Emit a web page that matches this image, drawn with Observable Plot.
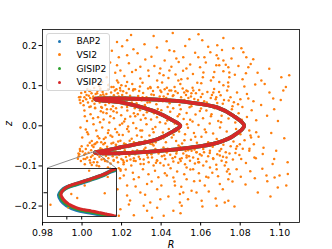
<!DOCTYPE html>
<html><head><meta charset="utf-8">
<script src="https://cdn.jsdelivr.net/npm/d3@7"></script>
<script src="https://cdn.jsdelivr.net/npm/@observablehq/plot@0.6"></script>
<style>
body{margin:0;background:#fff;}
#wrap{position:relative;width:332px;height:249px;font-family:"DejaVu Sans",sans-serif;}
#wrap > *{position:absolute;}
</style></head><body><div id="wrap"></div>
<script>
const series = ["BAP2","VSI2","GISIP2","VSIP2"];
const colors = ["#1f77b4","#ff7f0e","#2ca02c","#d62728"];
const xTicks = [0.98,1.00,1.02,1.04,1.06,1.08,1.10];
const yTicks = [-0.2,-0.1,0.0,0.1,0.2];
const xDomain = [0.98,1.11];
const yDomain = [-0.241,0.24];
const insetXDomain = [1.00647,1.006934];
const insetYDomain = [-0.06749,-0.06549];
const insetXTicks = [1.0066,1.0067];
const insetYTicks = [-0.0665];

// orbit (closed loop)
const orbitR = [1.006557,1.006574,1.006607,1.006674,1.006763,1.006850,1.006930,1.0211,1.0380,1.0548,1.0683,1.0766,1.0820,1.0765,1.0683,1.0548,1.0380,1.0211,1.0070,1.00656,1.0070,1.0211,1.0295,1.0380,1.0447,1.0497,1.0463,1.0380,1.0295,1.0211,1.0093,1.006930,1.006850,1.006763,1.006674,1.006607,1.006574];
const orbitZ = [-0.06656,-0.06680,-0.06698,-0.06717,-0.06728,-0.06739,-0.06749,-0.0680,-0.0630,-0.0545,-0.0425,-0.0250,0.0000,0.0250,0.0460,0.0580,0.0650,0.0680,0.0676,0.0665,0.0654,0.0570,0.0470,0.0330,0.0165,0.0000,-0.0130,-0.0335,-0.0440,-0.0520,-0.0640,-0.06552,-0.06574,-0.06593,-0.06611,-0.06625,-0.06639];

// VSI2 scattered points [R, z]
const vsi2 = [
[1.0005,0.062],[1.0012,0.071],[1.0021,0.066],[1.0030,0.058],[1.0034,0.075],[1.0041,0.069],[1.0048,0.081],[1.0052,0.062],[1.0057,0.073],[1.0063,0.055],[1.0069,0.079],[1.0074,0.064],[1.0078,0.087],[1.0083,0.071],[1.0089,0.058],[1.0094,0.076],[1.0098,0.066],[1.0104,0.084],[1.0109,0.061],[1.0113,0.073],[1.0118,0.052],[1.0123,0.079],[1.0128,0.067],[1.0132,0.091],[1.0137,0.057],[1.0142,0.072],[1.0147,0.083],[1.0151,0.063],[1.0156,0.049],[1.0161,0.076],[1.0166,0.088],[1.0171,0.069],[1.0176,0.058],[1.0181,0.081],[1.0186,0.073],[1.0192,0.094],[1.0197,0.061],[1.0203,0.077],[1.0208,0.086],[1.0214,0.054],[1.0219,0.071],[1.0225,0.082],[1.0231,0.064],[1.0237,0.092],[1.0243,0.075],[0.9985,0.071],[0.9992,0.057],[0.9988,0.064],[1.0016,0.084],[1.0027,0.092],[1.0044,0.048],[1.0061,0.094],[1.0087,0.099],[1.0101,0.045],[1.0126,0.041],[1.0149,0.097],[1.0172,0.044],[1.0199,0.101],[1.0228,0.047],[1.0252,0.058],[1.0258,0.088],[1.0264,0.069],[0.9996,0.082],[1.0008,0.051],[1.0037,0.087],[1.0066,0.045],[1.0092,0.089],[1.0135,0.102],[1.0183,0.108],[1.0221,0.099],
[1.0003,-0.064],[1.0011,-0.072],[1.0019,-0.058],[1.0026,-0.079],[1.0033,-0.067],[1.0039,-0.086],[1.0046,-0.061],[1.0053,-0.074],[1.0058,-0.053],[1.0064,-0.082],[1.0071,-0.069],[1.0077,-0.091],[1.0082,-0.062],[1.0088,-0.077],[1.0093,-0.056],[1.0099,-0.084],[1.0105,-0.071],[1.0111,-0.063],[1.0116,-0.088],[1.0121,-0.075],[1.0127,-0.052],[1.0133,-0.081],[1.0138,-0.068],[1.0144,-0.094],[1.0149,-0.059],[1.0155,-0.076],[1.0160,-0.085],[1.0165,-0.066],[1.0171,-0.047],[1.0176,-0.079],[1.0182,-0.091],[1.0188,-0.072],[1.0193,-0.057],[1.0199,-0.083],[1.0204,-0.068],[1.0210,-0.096],[1.0216,-0.061],[1.0222,-0.078],[1.0227,-0.087],[1.0233,-0.053],[1.0239,-0.074],[1.0245,-0.084],[0.9982,-0.069],[0.9989,-0.058],[0.9983,-0.076],[0.9990,-0.063],[0.9994,-0.088],[1.0014,-0.096],[1.0029,-0.049],[1.0049,-0.098],[1.0068,-0.044],[1.0086,-0.101],[1.0108,-0.046],[1.0131,-0.104],[1.0158,-0.042],[1.0186,-0.106],[1.0213,-0.044],[1.0249,-0.099],[1.0256,-0.063],[1.0262,-0.081],[1.0268,-0.071],[0.9998,-0.051],[1.0008,-0.083],[1.0042,-0.092],[1.0074,-0.099],[1.0097,-0.041],[1.0142,-0.107],[1.0195,-0.112],[0.9986,-0.071],[0.9979,-0.082],
[1.0012,0.038],[1.0025,0.012],[1.0031,-0.021],[1.0043,0.029],[1.0049,-0.038],[1.0058,0.004],[1.0066,0.044],[1.0072,-0.012],[1.0081,0.021],[1.0087,-0.031],[1.0095,0.036],[1.0102,-0.004],[1.0109,0.016],[1.0116,-0.043],[1.0124,0.031],[1.0131,-0.018],[1.0138,0.008],[1.0146,0.041],[1.0153,-0.027],[1.0161,0.019],[1.0168,-0.008],[1.0176,0.033],[1.0183,-0.039],[1.0191,0.002],[1.0198,0.026],[1.0206,-0.023],[1.0213,0.011],[1.0221,-0.046],[1.0229,0.038],[1.0236,-0.014],[1.0244,0.023],[1.0251,-0.032],[1.0259,0.007],[1.0267,0.044],[1.0274,-0.006],[1.0282,0.029],[1.0289,-0.041],[1.0297,0.015],[1.0019,-0.009],[1.0037,0.047],[1.0063,-0.046],[1.0091,0.009],[1.0119,-0.029],[1.0143,0.024],[1.0172,-0.048],[1.0201,0.046],[1.0233,-0.002],[1.0262,0.031],[1.0278,-0.024],[1.0293,0.039],
[1.0304,-0.012],[1.0311,0.027],[1.0319,-0.037],[1.0326,0.004],[1.0334,0.043],[1.0341,-0.024],[1.0349,0.016],[1.0356,-0.046],[1.0364,0.031],[1.0371,-0.003],[1.0379,0.021],[1.0386,-0.033],[1.0394,0.009],[1.0401,0.039],[1.0409,-0.017],[1.0416,0.026],[1.0424,-0.041],[1.0431,0.013],[1.0439,-0.008],[1.0446,0.035],[1.0454,-0.029],[1.0461,0.044],[1.0469,0.006],[1.0476,-0.038],[1.0484,0.024],[1.0491,-0.014],[1.0499,0.041],[1.0506,-0.044],[1.0514,0.017],[1.0521,-0.021],[1.0529,0.032],[1.0536,-0.005],[1.0544,0.046],[1.0551,-0.035],[1.0559,0.011],[1.0566,-0.018],[1.0574,0.028],[1.0581,-0.042],[1.0589,0.002],[1.0596,0.037],[1.0318,0.048],[1.0362,-0.049],[1.0433,0.047],[1.0488,-0.049],[1.0553,0.049],
[1.0604,-0.027],[1.0612,0.019],[1.0621,-0.009],[1.0629,0.038],[1.0638,-0.041],[1.0646,0.006],[1.0655,0.029],[1.0663,-0.019],[1.0672,0.044],[1.0681,-0.033],[1.0689,0.012],[1.0698,-0.004],[1.0706,0.025],[1.0715,-0.047],[1.0723,0.036],[1.0732,-0.014],[1.0741,0.018],[1.0749,-0.028],[1.0758,0.041],[1.0766,-0.039],[1.0775,0.008],[1.0784,-0.051],[1.0792,0.031],[1.0801,-0.021],[1.0811,0.047],[1.0822,-0.036],[1.0834,0.022],[1.0846,-0.012],[1.0858,0.039],[1.0869,-0.046],[1.0881,0.014],[1.0893,-0.027],[1.0906,0.052],[1.0918,-0.055],[1.0624,0.053],
[1.0268,0.091],[1.0276,0.056],[1.0284,0.074],[1.0293,0.098],[1.0301,0.063],[1.0309,0.082],[1.0318,0.052],[1.0326,0.071],[1.0334,0.093],[1.0343,0.059],[1.0351,0.078],[1.0359,0.087],[1.0368,0.066],[1.0376,0.054],[1.0384,0.096],[1.0393,0.073],[1.0401,0.084],[1.0409,0.061],[1.0418,0.091],[1.0426,0.069],[1.0434,0.079],[1.0443,0.056],[1.0451,0.088],[1.0459,0.074],[1.0468,0.097],[1.0476,0.063],[1.0484,0.082],[1.0493,0.052],[1.0501,0.071],[1.0509,0.093],[1.0518,0.064],[1.0526,0.077],[1.0534,0.086],[1.0543,0.058],[1.0551,0.073],[1.0559,0.095],[1.0568,0.067],[1.0576,0.081],[1.0584,0.055],[1.0593,0.089],[1.0601,0.072],[1.0618,0.061],[1.0634,0.084],[1.0651,0.069],[1.0668,0.092],[1.0684,0.057],[1.0701,0.076],[1.0718,0.064],[1.0734,0.088],[1.0751,0.071],[1.0768,0.059],[1.0784,0.083],[1.0801,0.066],[1.0834,0.079],[1.0867,0.061],
[1.0271,-0.088],[1.0279,-0.061],[1.0287,-0.077],[1.0296,-0.095],[1.0304,-0.067],[1.0312,-0.084],[1.0321,-0.055],[1.0329,-0.072],[1.0337,-0.091],[1.0346,-0.063],[1.0354,-0.079],[1.0362,-0.099],[1.0371,-0.058],[1.0379,-0.086],[1.0387,-0.069],[1.0396,-0.093],[1.0404,-0.076],[1.0412,-0.054],[1.0421,-0.083],[1.0429,-0.066],[1.0437,-0.097],[1.0446,-0.072],[1.0454,-0.059],[1.0462,-0.089],[1.0471,-0.078],[1.0479,-0.064],[1.0487,-0.092],[1.0496,-0.053],[1.0504,-0.081],[1.0512,-0.069],[1.0521,-0.096],[1.0529,-0.074],[1.0537,-0.061],[1.0546,-0.087],[1.0554,-0.056],[1.0562,-0.079],[1.0571,-0.094],[1.0579,-0.066],[1.0587,-0.083],[1.0596,-0.071],[1.0613,-0.058],[1.0629,-0.089],[1.0646,-0.068],[1.0663,-0.081],[1.0679,-0.097],[1.0696,-0.063],[1.0713,-0.077],[1.0729,-0.091],[1.0746,-0.069],[1.0763,-0.084],[1.0779,-0.057],[1.0796,-0.073],[1.0829,-0.093],[1.0846,-0.062],[1.0879,-0.081],
[1.0543,0.216],[1.0608,0.213],[1.0684,0.201],[1.0442,0.188],[1.0765,0.193],[1.0806,0.193],[1.0816,0.183],[1.0649,0.183],[1.0588,0.171],[1.0619,0.171],[1.0512,0.171],[1.0477,0.168],[1.0831,0.171],[1.0866,0.166],[1.0689,0.168],[1.0715,0.163],[1.0679,0.151],[1.0694,0.151],[1.0740,0.146],[1.0841,0.146],[1.0528,0.143],[1.0442,0.138],[1.0614,0.133],[1.0715,0.136],[1.0745,0.133],[1.0664,0.121],[1.0487,0.113],[1.0502,0.116],[1.0745,0.121],[1.0715,0.101],[1.0740,0.098],[1.0821,0.098],[1.0876,0.103],[1.0907,0.113],[1.1008,0.121],[1.1048,0.126],[1.1018,0.088],[1.0967,0.068],[1.0841,0.068],[1.0603,0.106],[1.0664,0.083],[1.0679,0.071],[1.0528,0.088],[1.0553,0.081],[1.0442,0.088],[1.0462,0.076],
[1.0177,0.209],[1.0228,0.213],[1.0362,0.224],[1.0320,0.165],[1.0260,0.191],[1.0228,0.176],[1.0177,0.151],[1.0295,0.147],[1.0194,0.138],[1.0253,0.134],[1.0335,0.138],[1.0396,0.143],[1.0177,0.113],[1.0228,0.109],[1.0295,0.118],[1.0380,0.113],[1.0412,0.126],[1.0159,0.097],[1.0194,0.088],[1.0260,0.091],[1.0345,0.097],[1.0396,0.088],[1.0093,0.093],[1.0042,0.088],[1.0076,0.081],[0.9992,0.072],
[0.9992,-0.004],[1.0026,-0.016],[1.0001,-0.029],[1.0051,-0.049],[1.0076,-0.041],[1.0110,-0.033],[1.0144,-0.024],[1.0177,-0.016],[1.0228,-0.008],[1.0295,-0.012],[1.0362,-0.016],[1.0396,-0.033],[1.0345,-0.045],[1.0262,-0.041],[1.0194,-0.037],[1.0017,-0.083],[1.0059,-0.091],[1.0110,-0.083],[1.0160,-0.087],[1.0211,-0.091],[1.0262,-0.087],[1.0312,-0.095],[1.0380,-0.087],[1.0413,-0.099],[1.0211,-0.124],[1.0262,-0.133],[1.0329,-0.145],[1.0380,-0.158],[1.0295,-0.166],[1.0228,-0.174],[1.0345,-0.191],[1.0396,-0.183],[1.0312,-0.199],[1.0262,-0.223],[1.0329,-0.212],[1.0380,-0.204],[1.0413,-0.224],[1.0194,-0.208],[1.0228,-0.149],[1.0194,-0.108],
[1.0881,-0.016],[1.0855,-0.029],[1.0847,-0.057],[1.0813,-0.057],[1.0914,-0.070],[1.0872,-0.079],[1.0972,-0.083],[1.0964,-0.095],[1.1040,-0.091],[1.0805,-0.083],[1.0731,-0.079],[1.0706,-0.087],[1.0740,-0.108],[1.0722,-0.099],[1.0747,-0.120],[1.0681,-0.108],[1.0647,-0.104],[1.0639,-0.129],[1.0697,-0.145],[1.0740,-0.133],[1.0933,-0.124],[1.0974,-0.129],[1.0999,-0.124],[1.1041,-0.120],[1.1033,-0.149],[1.0990,-0.154],[1.0889,-0.166],[1.0621,-0.149],[1.0579,-0.166],[1.0554,-0.162],[1.0512,-0.166],[1.0495,-0.170],[1.0596,-0.137],[1.0529,-0.133],[1.0462,-0.129],[1.0429,-0.124],[1.0504,-0.199],[1.0605,-0.187],[1.0681,-0.199],[1.0722,-0.191],[1.0740,-0.187],[1.0462,-0.212],[1.0495,-0.191],[1.0470,-0.149],[1.0529,-0.104],[1.0562,-0.108],[1.0588,-0.091],[1.0613,-0.099],[1.0664,-0.083],[1.0697,-0.074],[1.0529,-0.079],[1.0495,-0.083],[1.0605,-0.074],[1.0579,-0.066],[1.0554,-0.062],[1.0647,-0.062],[1.0462,-0.062],[1.0429,-0.066],
[1.0125,0.121],[1.0142,0.158],[1.0151,0.187],[1.0168,0.132],[1.0186,0.171],[1.0203,0.198],[1.0214,0.124],[1.0237,0.156],[1.0248,0.226],[1.0272,0.139],[1.0281,0.181],[1.0306,0.107],[1.0316,0.203],[1.0338,0.124],[1.0351,0.172],[1.0366,0.149],[1.0379,0.195],[1.0392,0.131],[1.0405,0.108],[1.0418,0.163],[1.0428,0.211],[1.0437,0.119],[1.0452,0.147],[1.0466,0.186],[1.0473,0.128],[1.0489,0.159],[1.0497,0.104],[1.0511,0.137],[1.0522,0.199],[1.0534,0.118],[1.0547,0.153],[1.0561,0.129],[1.0572,0.182],[1.0583,0.107],[1.0597,0.146],[1.0611,0.121],[1.0626,0.158],[1.0638,0.197],[1.0652,0.113],[1.0669,0.134],[1.0681,0.176],[1.0694,0.109],[1.0708,0.189],[1.0727,0.152],[1.0739,0.108],[1.0756,0.168],[1.0773,0.127],[1.0791,0.149],[1.0812,0.116],[1.0829,0.131],[1.0853,0.154],[1.0888,0.132],[1.0924,0.104],[1.0947,0.142],[1.0102,0.109],[1.0133,0.101],[1.0254,0.104],[1.0459,0.231],[1.0589,0.228],[1.0715,0.219],
[1.0116,-0.112],[1.0138,-0.137],[1.0157,-0.121],[1.0179,-0.158],[1.0192,-0.131],[1.0221,-0.109],[1.0243,-0.186],[1.0257,-0.117],[1.0271,-0.151],[1.0287,-0.128],[1.0308,-0.108],[1.0319,-0.172],[1.0336,-0.121],[1.0352,-0.139],[1.0369,-0.112],[1.0386,-0.128],[1.0401,-0.149],[1.0419,-0.118],[1.0437,-0.176],[1.0448,-0.106],[1.0468,-0.139],[1.0481,-0.114],[1.0502,-0.152],[1.0517,-0.121],[1.0536,-0.183],[1.0548,-0.109],[1.0567,-0.138],[1.0591,-0.118],[1.0609,-0.201],[1.0628,-0.127],[1.0641,-0.164],[1.0659,-0.117],[1.0676,-0.181],[1.0688,-0.126],[1.0712,-0.158],[1.0733,-0.114],[1.0761,-0.139],[1.0782,-0.108],[1.0803,-0.127],[1.0827,-0.146],[1.0851,-0.113],[1.0874,-0.131],[1.0912,-0.107],[1.0937,-0.138],[1.0186,-0.224],[1.0354,-0.229],[1.0498,-0.218],[1.0771,-0.201],[1.0953,-0.176],[1.0237,-0.196],
[1.0948,0.083],[1.0972,0.041],[1.0991,0.012],[1.1023,-0.031],[1.0957,-0.018],[1.1005,0.064],[1.0936,0.025],[1.0982,-0.062],[1.1031,0.097],
[1.0273,0.064],[1.0289,0.087],[1.0306,0.071],[1.0331,0.058],[1.0347,0.094],[1.0363,0.077],[1.0388,0.062],[1.0413,0.073],[1.0429,0.095],[1.0447,0.065],[1.0472,0.086],[1.0496,0.061],[1.0517,0.083],[1.0538,0.069],[1.0563,0.088],[1.0587,0.064],[1.0609,0.079],[1.0631,0.058],[1.0657,0.077],[1.0676,0.066],[1.0693,0.084],[1.0712,0.055],[1.0742,0.063],[1.0761,0.049],[1.0789,0.054],
[1.0276,-0.068],[1.0293,-0.083],[1.0314,-0.059],[1.0333,-0.079],[1.0351,-0.071],[1.0374,-0.092],[1.0391,-0.062],[1.0416,-0.074],[1.0433,-0.057],[1.0458,-0.081],[1.0477,-0.069],[1.0499,-0.088],[1.0524,-0.063],[1.0541,-0.076],[1.0569,-0.059],[1.0592,-0.091],[1.0617,-0.066],[1.0638,-0.076],[1.0661,-0.052],[1.0684,-0.071],[1.0704,-0.058],[1.0727,-0.066],[1.0752,-0.051],[1.0776,-0.068],[1.0798,-0.046],
[1.0056,0.019],[1.0079,-0.026],[1.0107,0.033],[1.0134,-0.011],[1.0159,0.036],[1.0187,-0.022],[1.0218,0.017],[1.0241,-0.037],[1.0269,0.024],[1.0301,-0.028],[1.0328,0.034],[1.0357,-0.008],[1.0383,0.042],[1.0411,-0.031],[1.0437,0.021],[1.0463,-0.022],[1.0492,0.029],[1.0518,-0.036],[1.0547,0.015],[1.0573,-0.027],[1.0602,0.043],[1.0627,-0.016],[1.0652,0.024],[1.0678,-0.043],[1.0703,0.009],[1.0728,-0.032],[1.0754,0.029],[1.0779,-0.008],[1.0808,0.015],[1.0852,-0.024],[1.0014,0.024],[1.0039,-0.042],[1.0097,0.047],[1.0149,-0.044],[1.0203,0.006],[1.0252,-0.047],[1.0321,0.019],[1.0372,-0.041],[1.0422,0.006],[1.0531,0.004],
[1.0023,0.077],[1.0055,0.068],[1.0081,0.063],[1.0107,0.078],[1.0139,0.066],[1.0174,0.091],[1.0211,0.063],[1.0017,-0.069],[1.0045,-0.078],[1.0079,-0.072],[1.0103,-0.059],[1.0128,-0.089],[1.0169,-0.064],[1.0207,-0.086],
[1.006750,-0.06558],[1.006875,-0.06584],[1.006720,-0.06620],[1.006855,-0.06652],[1.006630,-0.06655],[1.006670,-0.06672],[1.006490,-0.06700],[1.006610,-0.06712],[1.006760,-0.06598]
];

const orbit = orbitR.map((r,i)=>({R:r, z:orbitZ[i]}));
const pts = vsi2.map(([R,z])=>({R,z}));
const font = "DejaVu Sans";
const wrap = document.getElementById("wrap");

const curveLine = (color, w, extra={}) => Plot.line(orbit, {x:"R", y:"z", curve:"catmull-rom-closed", stroke:color, strokeWidth:w, clip:true, ...extra});

const main = Plot.plot({
  width:332, height:249, marginLeft:42, marginRight:33, marginTop:29, marginBottom:27,
  style:{fontFamily:font, fontSize:"9.4px", color:"#000", background:"transparent", overflow:"visible"},
  x:{domain:xDomain, ticks:xTicks, tickFormat:d3.format(".2f"), tickSize:3.5, tickPadding:3.5, label:null},
  y:{domain:yDomain, ticks:yTicks, tickFormat:d3.format(".1f"), tickSize:3.5, tickPadding:2, label:null},
  marks:[
    curveLine(colors[0], 3.8),
    Plot.dot(pts, {x:"R", y:"z", r:1.25, fill:colors[1], clip:true}),
    curveLine(colors[2], 3.8),
    curveLine(colors[3], 3.8),
    Plot.frame({stroke:"#000", strokeWidth:0.8}),
    Plot.text(["R"], {frameAnchor:"bottom", dy:25, text:d=>d, fontStyle:"italic", fontSize:9.6}),
    Plot.text(["z"], {frameAnchor:"left", dx:-34, rotate:-90, text:d=>d, fontStyle:"italic", fontSize:9.6})
  ]
});
main.style.left = "0px"; main.style.top = "0px";
wrap.appendChild(main);

// inset placement (layout)
const inL = 47, inT = 168, inW = 69, inH = 48;

// connector lines + zoom rectangle
const sx = main.scale("x"), sy = main.scale("y");
const ax = sx.apply ? v=>sx.apply(v) : d3.scaleLinear(sx.domain, sx.range);
const ay = sy.apply ? v=>sy.apply(v) : d3.scaleLinear(sy.domain, sy.range);
const ov = d3.create("svg").attr("width",332).attr("height",249).style("left","0px").style("top","0px");
const rx0 = ax(insetXDomain[0]), rx1 = ax(insetXDomain[1]), ry0 = ay(insetYDomain[1]), ry1 = ay(insetYDomain[0]);
ov.append("rect").attr("x",rx0).attr("y",ry0).attr("width",Math.max(0.5,rx1-rx0)).attr("height",Math.max(0.5,ry1-ry0)).attr("fill","none").attr("stroke","#808080").attr("stroke-width",0.8);
ov.append("line").attr("x1",inL).attr("y1",inT).attr("x2",rx0).attr("y2",ry0).attr("stroke","#808080").attr("stroke-width",0.9);
ov.append("line").attr("x1",inL+inW).attr("y1",inT).attr("x2",rx1).attr("y2",ry0).attr("stroke","#808080").attr("stroke-width",0.9);
wrap.appendChild(ov.node());

const inset = Plot.plot({
  width:inW, height:inH, margin:0,
  style:{background:"white", overflow:"visible", fontFamily:font, fontSize:"9px", color:"#000"},
  x:{domain:insetXDomain, ticks:insetXTicks, tickSize:3.5, tickFormat:()=>"", label:null},
  y:{domain:insetYDomain, ticks:insetYTicks, tickSize:3.5, tickFormat:()=>"", label:null},
  marks:[
    Plot.frame({fill:"white"}),
    curveLine(colors[0], 4.4, {dx:-1.3, dy:0.8}),
    Plot.dot(pts, {x:"R", y:"z", r:1.2, fill:colors[1], clip:true}),
    curveLine(colors[2], 3.6, {dx:-0.4, dy:0.3}),
    curveLine(colors[3], 3.2, {dx:0.5, dy:-0.4, strokeDasharray:"6,2"}),
    Plot.frame({stroke:"#000", strokeWidth:0.8})
  ]
});
inset.style.left = inL+"px"; inset.style.top = inT+"px";
wrap.appendChild(inset);

// legend
const leg = document.createElement("div");
Object.assign(leg.style, {left:"46px", top:"33px", width:"64px", height:"58px", boxSizing:"border-box",
  border:"1px solid #d6d6d6", borderRadius:"3px", background:"rgba(255,255,255,0.8)"});
series.forEach((name,i)=>{
  const cy = 7.3 + i*13.6;
  const m = document.createElement("span");
  Object.assign(m.style, {position:"absolute", left:(12.5-1.6)+"px", top:(cy-1.6)+"px", width:"3.2px", height:"3.2px", borderRadius:"50%", background:colors[i]});
  const t = document.createElement("span");
  t.textContent = name;
  Object.assign(t.style, {position:"absolute", left:"29.5px", top:(cy-6)+"px", lineHeight:"12px", fontSize:"9.2px", fontFamily:font, color:"#000", whiteSpace:"nowrap"});
  leg.appendChild(m); leg.appendChild(t);
});
wrap.appendChild(leg);
</script></body></html>
